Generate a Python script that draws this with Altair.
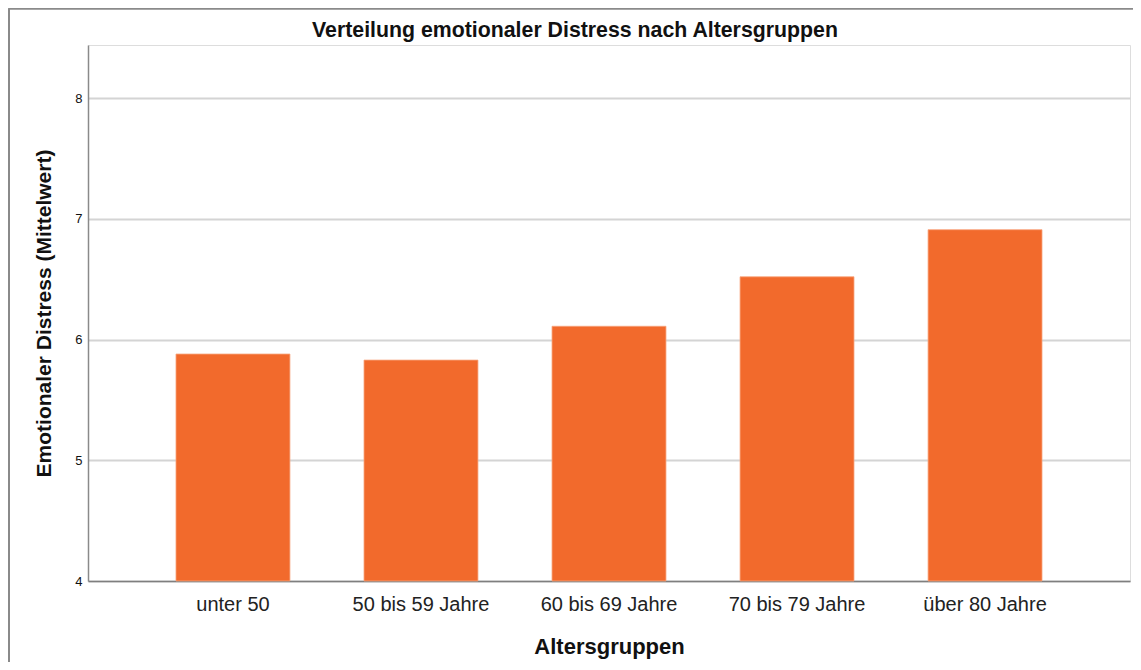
import altair as alt
import pandas as pd

categories = ["unter 50", "50 bis 59 Jahre", "60 bis 69 Jahre", "70 bis 79 Jahre", "über 80 Jahre"]
values = [5.88, 5.83, 6.11, 6.52, 6.91]
baseline = 4

df = pd.DataFrame({"gruppe": categories, "wert": values})

FONT = "Liberation Sans"
W, H = 1042, 536

bars = alt.Chart(df).mark_bar(color="#F26A2C", stroke="#F7A47E", strokeWidth=0.8).encode(
    x=alt.X(
        "gruppe:N",
        sort=categories,
        scale=alt.Scale(paddingInner=0.394, paddingOuter=0.468),
        axis=alt.Axis(
            title="Altersgruppen",
            labelAngle=0,
            labelFontSize=20,
            labelFont=FONT,
            labelColor="#222222",
            labelPadding=13,
            ticks=False,
            domainColor="#7f7f7f",
            domainWidth=1.5,
            titleFontSize=22,
            titleFont=FONT,
            titleFontWeight="bold",
            titleColor="#111111",
            titlePadding=22,
            grid=False,
        ),
    ),
    y=alt.Y(
        "wert:Q",
        scale=alt.Scale(domain=[4, 8.44], nice=False, zero=False),
        axis=alt.Axis(
            title="Emotionaler Distress (Mittelwert)",
            values=[4, 5, 6, 7, 8],
            format="d",
            labelFontSize=13,
            labelFont=FONT,
            labelColor="#111111",
            labelPadding=6,
            ticks=False,
            domainColor="#8a8a8a",
            domainWidth=1.5,
            gridColor="#d4d4d4",
            gridWidth=1.8,
            titleFontSize=21,
            titleFont=FONT,
            titleFontWeight="bold",
            titleColor="#111111",
            titlePadding=20,
        ),
    ),
    y2=alt.datum(baseline),
)

frame_top = alt.Chart(df).mark_rule(color="#8a8a8a", strokeWidth=1.5, clip=False).encode(
    x=alt.value(-79), x2=alt.value(W + 3), y=alt.value(-36.5)
)
frame_left = alt.Chart(df).mark_rule(color="#8a8a8a", strokeWidth=1.5, clip=False).encode(
    x=alt.value(-79), y=alt.value(-36.5), y2=alt.value(H + 81)
)

chart = alt.layer(frame_top, frame_left, bars).properties(
    width=W,
    height=H,
    autosize=alt.AutoSizeParams(type="none"),
    padding={"left": 80, "top": 37, "right": 3, "bottom": 81},
    title=alt.TitleParams(
        "Verteilung emotionaler Distress nach Altersgruppen",
        fontSize=21.3,
        font=FONT,
        fontWeight="bold",
        color="#111111",
        anchor="middle",
        dx=-34,
        offset=-34,
    ),
).configure_view(strokeWidth=0).configure(background="white")

chart.save("out.html", embed_options={"renderer": "svg", "actions": False})
